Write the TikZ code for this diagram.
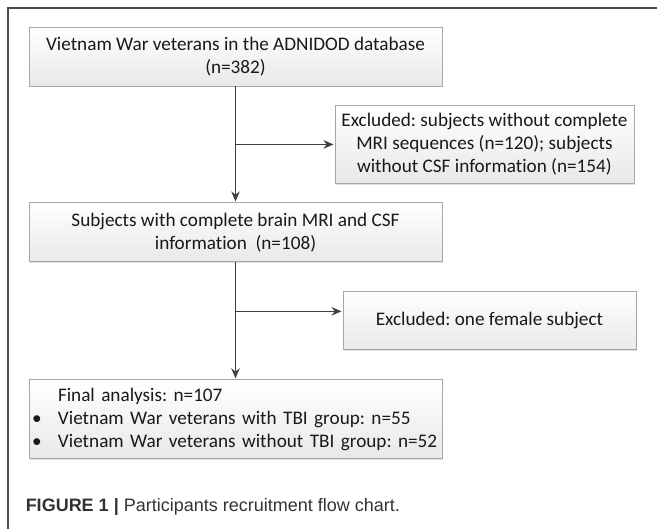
\documentclass[tikz,border=0pt]{standalone}
\usepackage{fontspec}
\setmainfont{Carlito}[Ligatures=NoCommon]
\newfontfamily\capfont{Liberation Sans}
\usetikzlibrary{arrows.meta,positioning,shadows}
\frenchspacing

\begin{document}
\begin{tikzpicture}[->,>={Stealth[length=10pt,width=8.5pt]},shorten >=1pt,
                    x=1pt,y=-1pt,node distance=116pt,line width=1.5pt]
  \tikzstyle{every node}=[font=\fontsize{19.2}{23}\selectfont,text=black!90]
  \tikzstyle{every edge}=[draw,black!75]
  \tikzstyle{flow}=[draw=black!35,line width=0.9pt,top color=white,
                    bottom color=black!9,align=center,inner sep=2pt,
                    drop shadow={shadow xshift=1pt,shadow yshift=-1.5pt,opacity=0.25}]

  \useasboundingbox (0,0) rectangle (657,529);
  \draw[-,shorten >=0pt,black!70,line width=1.4pt] (657,8) -- (8,8) -- (8,529);

  \node[flow,minimum width=413pt,minimum height=59pt] (b1) at (235.5,56.5)
       {Vietnam War veterans in the ADNIDOD database\\(n=382)};
  \coordinate[below=58pt of b1.south] (j1);
  \node[flow,minimum width=299pt,minimum height=78pt] (b2) [right=99pt of j1]
       {Excluded: subjects without complete\\MRI sequences (n=120); subjects\\without CSF information (n=154)};
  \node[flow,minimum width=413pt,minimum height=59pt] (b3) [below=of b1]
       {Subjects with complete brain MRI and CSF\\information\ \ (n=108)};
  \coordinate[below=49pt of b3.south] (j2);
  \node[flow,minimum width=293pt,minimum height=58pt] (b4) [right=107pt of j2,yshift=-9.5pt]
       {Excluded: one female subject};
  \node[flow,align=left,text width=407pt,inner xsep=3pt,minimum height=79pt] (b5) [below=117pt of b3]
       {\hspace*{26pt}Final analysis: n=107\\
        \mbox{\makebox[26pt][l]{\textbullet}Vietnam War veterans with TBI group: n=55}\\
        \mbox{\makebox[26pt][l]{\textbullet}Vietnam War veterans without TBI group: n=52}};

  \path (b1) edge (b3)
        (j1) edge (b2)
        (b3) edge (b5)
        (j2) edge (j2 -| b4.west);

  \node[font=\capfont\fontsize{18}{22}\selectfont,text=black!80,anchor=west,inner sep=0pt] (cap) at (25,507)
       {\textbf{FIGURE 1 |} Participants recruitment flow chart.};
\end{tikzpicture}
\end{document}
